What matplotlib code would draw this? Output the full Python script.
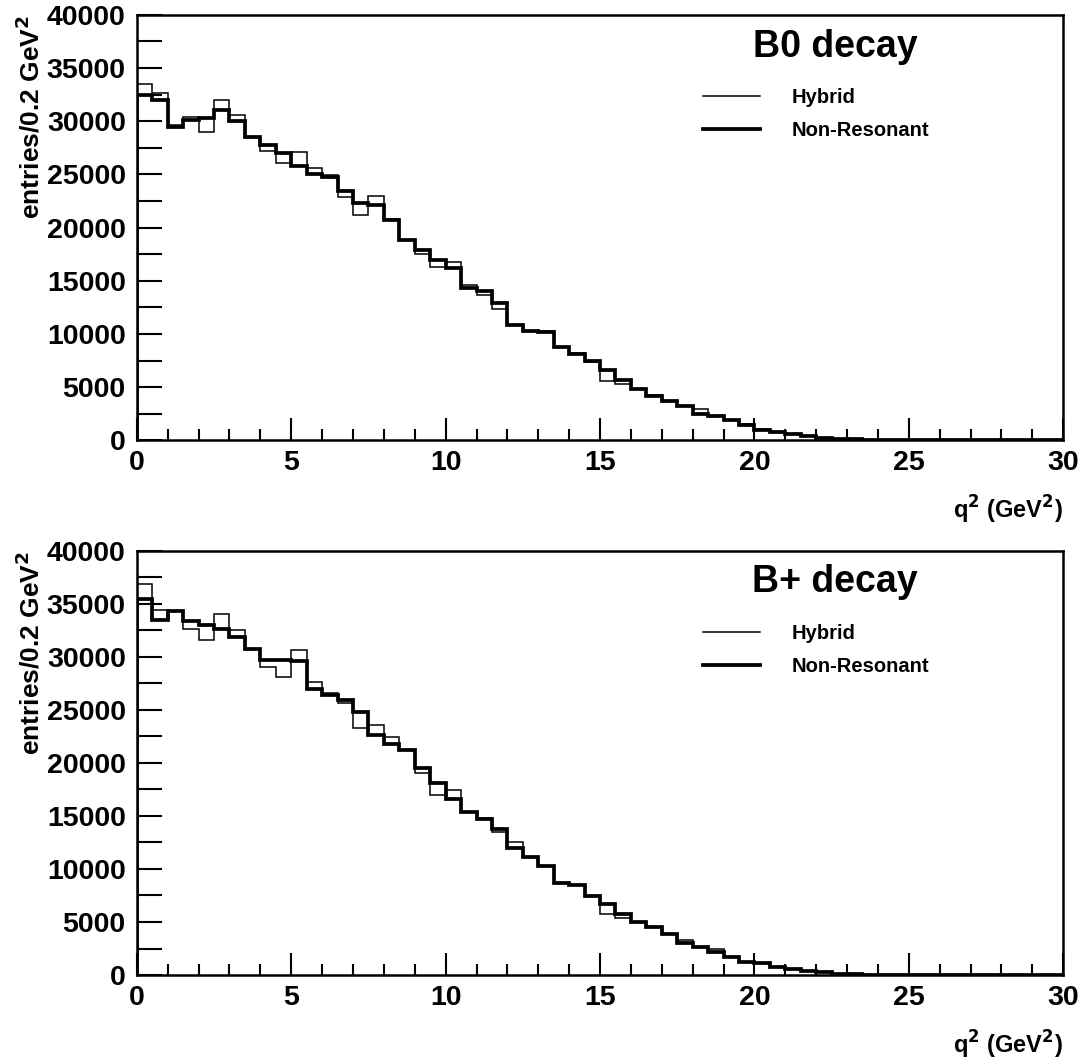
import numpy as np
import matplotlib
matplotlib.use('Agg')
import matplotlib.pyplot as plt
from matplotlib.ticker import MultipleLocator

# ─── Data (entries per bin, bins of 0.5 GeV^2 from 0 to 30) ───────────────────
BIN_WIDTH = 0.5
N_BINS = 60

b0_hybrid = [33500, 32700, 29600, 30400, 29000, 32000, 30600, 28500, 27200, 26100,
             27100, 25600, 24900, 22900, 21200, 23000, 20800, 18800, 17500, 16300,
             16800, 14600, 13700, 12300, 10800, 10300, 10300, 8800, 8200, 7400,
             5600, 5300, 4800, 4250, 3700, 3250, 2900, 2300, 1950, 1500,
             1050, 800, 560, 380, 220, 130, 80, 50, 30, 15,
             0, 0, 0, 0, 0, 0, 0, 0, 0, 0]
b0_nonres = [32500, 32000, 29500, 30100, 30300, 31100, 30000, 28500, 27800, 27000,
             25800, 25000, 24800, 23400, 22300, 22100, 20700, 18800, 17900, 16950,
             16200, 14300, 14000, 12900, 10800, 10300, 10200, 8800, 8150, 7450,
             6650, 5650, 4800, 4200, 3700, 3200, 2500, 2300, 1950, 1450,
             1000, 780, 550, 370, 220, 130, 80, 50, 30, 15,
             0, 0, 0, 0, 0, 0, 0, 0, 0, 0]
bp_hybrid = [36900, 34400, 34300, 32600, 31600, 34000, 32500, 30700, 29000, 28100,
             30600, 27600, 26600, 25600, 23300, 23600, 22400, 21200, 19000, 17000,
             17400, 15400, 14800, 13500, 12500, 11100, 10300, 8650, 8500, 7450,
             5800, 5350, 5030, 4500, 3870, 3300, 2670, 2500, 1730, 1260,
             1100, 790, 570, 380, 250, 130, 70, 40, 20, 10,
             0, 0, 0, 0, 0, 0, 0, 0, 0, 0]
bp_nonres = [35400, 33500, 34300, 33400, 33000, 32600, 31900, 30700, 29700, 29700,
             29600, 27000, 26400, 25900, 24800, 22600, 21800, 21200, 19500, 18100,
             16600, 15400, 14750, 13800, 11950, 11100, 10300, 8650, 8480, 7450,
             6700, 5800, 5030, 4500, 3870, 3000, 2670, 2200, 1730, 1260,
             1100, 790, 570, 375, 250, 130, 70, 40, 20, 10,
             0, 0, 0, 0, 0, 0, 0, 0, 0, 0]

PANELS = [('B0 decay', b0_hybrid, b0_nonres),
          ('B+ decay', bp_hybrid, bp_nonres)]

plt.rcParams['font.family'] = ['Liberation Sans', 'DejaVu Sans']
plt.rcParams['font.weight'] = 'bold'

edges = np.arange(N_BINS + 1) * BIN_WIDTH

fig = plt.figure(figsize=(10.86, 10.61), dpi=100)
boxes = [[0.126, 0.585, 0.853, 0.401],
         [0.126, 0.081, 0.853, 0.400]]

for box, (title, hyb, nonres) in zip(boxes, PANELS):
    ax = fig.add_axes(box)
    ax.stairs(hyb, edges, color='black', lw=1.1, label='Hybrid')
    ax.stairs(nonres, edges, color='black', lw=2.7, label='Non-Resonant')

    ax.set_xlim(0, 30)
    ax.set_ylim(0, 40000)
    ax.xaxis.set_major_locator(MultipleLocator(5))
    ax.xaxis.set_minor_locator(MultipleLocator(1))
    ax.yaxis.set_major_locator(MultipleLocator(5000))
    ax.yaxis.set_minor_locator(MultipleLocator(2500))
    ax.tick_params(axis='both', which='both', direction='in', width=1.5,
                   labelsize=20.5, top=False, right=False)
    ax.tick_params(axis='x', which='major', length=16, pad=7)
    ax.tick_params(axis='x', which='minor', length=8)
    ax.tick_params(axis='y', which='both', length=18, pad=8)
    for lab in ax.get_xticklabels() + ax.get_yticklabels():
        lab.set_fontweight('bold')
    for sp in ax.spines.values():
        sp.set_linewidth(1.8)

    ax.set_ylabel('entries/0.2 GeV$^\\mathbf{2}$', fontsize=19,
                  fontweight='bold')
    ax.yaxis.set_label_coords(-0.1, 0.76)
    ax.set_xlabel('q$^\\mathbf{2}$ (GeV$^\\mathbf{2}$)', fontsize=17,
                  fontweight='bold', loc='right', labelpad=13)

    ax.text(0.754, 0.925, title, transform=ax.transAxes, fontsize=27,
            fontweight='bold', ha='center', va='center')
    ax.legend(loc='upper left', bbox_to_anchor=(0.592, 0.87), frameon=False,
              handlelength=2.8, handletextpad=1.6, labelspacing=0.7,
              prop={'weight': 'bold', 'size': 14.5})

fig.savefig('out.png', dpi=100)
